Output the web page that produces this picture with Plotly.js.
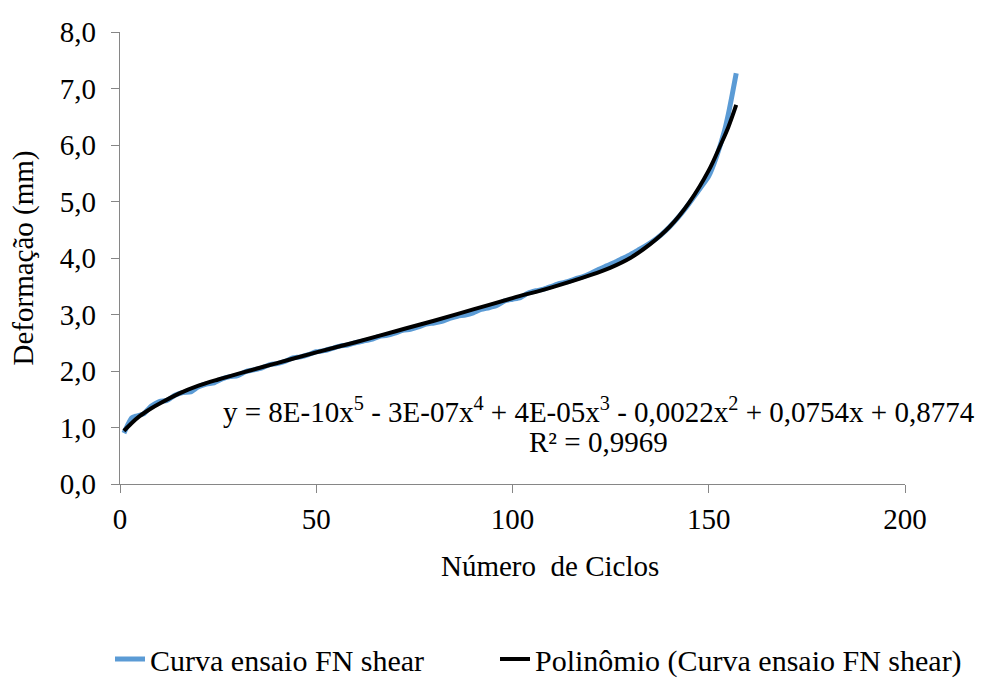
<!DOCTYPE html>
<html>
<head>
<meta charset="utf-8">
<script src="https://cdn.plot.ly/plotly-3.0.1.min.js"></script>
<style>html,body{margin:0;padding:0;background:#fff;}#chart{width:982px;height:680px;}</style>
</head>
<body>
<div id="chart"></div>
<script>
// Measured series (Curva ensaio FN shear)
const cyclesData = [1,2,3,4,6,8,10,12,14,16,18,20,22,24,26,28,30,32,34,36,38,40,42,44,46,48,50,52,54,56,58,60,62,64,66,68,70,72,74,76,78,80,82,84,86,88,90,92,94,96,98,100,102,104,106,108,110,112,114,116,118,120,122,124,126,128,130,132,134,136,138,140,142,144,146,148,150,152,154,155,156,157];
const deformData = [0.90,1.05,1.17,1.20,1.24,1.38,1.46,1.48,1.57,1.62,1.63,1.72,1.77,1.79,1.86,1.90,1.92,1.99,2.02,2.05,2.11,2.13,2.17,2.23,2.25,2.29,2.34,2.36,2.40,2.44,2.46,2.50,2.53,2.56,2.61,2.63,2.67,2.72,2.74,2.78,2.83,2.85,2.88,2.93,2.97,2.99,3.03,3.09,3.12,3.16,3.24,3.27,3.30,3.38,3.42,3.45,3.50,3.55,3.58,3.63,3.67,3.73,3.80,3.86,3.92,3.99,4.06,4.14,4.22,4.31,4.42,4.55,4.70,4.87,5.06,5.25,5.45,5.80,6.25,6.55,6.90,7.27];

// Polynomial trendline
const cyclesTrend = [1,3,5,8,10,15,20,25,30,40,50,60,70,80,90,100,110,120,125,130,135,140,145,150,153,155,157];
const deformTrend = [0.94,1.08,1.20,1.34,1.42,1.60,1.74,1.85,1.95,2.14,2.33,2.51,2.70,2.89,3.09,3.29,3.48,3.70,3.83,4.00,4.24,4.55,4.98,5.55,6.00,6.32,6.71];

const seriesNames = ["Curva ensaio FN shear", "Polinômio (Curva ensaio FN shear)"];
const xTicks = [0,50,100,150,200];
const yTicks = [0,1,2,3,4,5,6,7,8];
const equationText = "y = 8E-10x<sup>5</sup> - 3E-07x<sup>4</sup> + 4E-05x<sup>3</sup> - 0,0022x<sup>2</sup> + 0,0754x + 0,8774";
const r2Text = "R² = 0,9969";

const FONT = "Liberation Serif";
const AX = "#868686";

const traces = [
  {x: cyclesData, y: deformData, type: "scatter", mode: "lines", name: seriesNames[0], legend: "legend",
   line: {color: "#5B9BD5", width: 5, shape: "spline", smoothing: 0.6}},
  {x: cyclesTrend, y: deformTrend, type: "scatter", mode: "lines", name: seriesNames[1], legend: "legend2",
   line: {color: "#000000", width: 4, shape: "spline", smoothing: 1}}
];

const legendY = -(659 - 484) / 452;
const layout = {
  width: 982, height: 680,
  margin: {l: 120, r: 77, t: 32, b: 196, autoexpand: false},
  paper_bgcolor: "#fff", plot_bgcolor: "#fff",
  separators: ",.",
  font: {family: FONT, size: 29, color: "#000"},
  xaxis: {range: [0, 200], tickvals: xTicks, showgrid: false, zeroline: false, automargin: false,
          showline: true, linecolor: AX, linewidth: 1.3, ticks: "outside", ticklen: 8, tickcolor: AX,
          tickfont: {family: FONT, size: 29}, ticklabelstandoff: 1},
  yaxis: {range: [0, 8], tickvals: yTicks, tickformat: ".1f", showgrid: false, zeroline: false, automargin: false,
          showline: true, linecolor: AX, linewidth: 1.3, ticks: "outside", ticklen: 8, tickcolor: AX,
          tickfont: {family: FONT, size: 29}, ticklabelstandoff: 9,
          title: {text: "Deformação (mm)", font: {family: FONT, size: 29}, standoff: 17}},
  showlegend: true,
  legend: {orientation: "h", x: (110-120)/785, xanchor: "left", y: legendY, yanchor: "middle",
           font: {family: FONT, size: 30}, bgcolor: "rgba(0,0,0,0)"},
  legend2: {orientation: "h", x: (495-120)/785, xanchor: "left", y: legendY, yanchor: "middle",
           font: {family: FONT, size: 30}, bgcolor: "rgba(0,0,0,0)"},
  annotations: [
    {xref: "x", yref: "y", x: 122, y: 1.31, text: equationText, showarrow: false,
     font: {family: FONT, size: 29}, xanchor: "center", yanchor: "middle"},
    {xref: "x", yref: "y", x: 122, y: 0.75, text: r2Text, showarrow: false,
     font: {family: FONT, size: 29}, xanchor: "center", yanchor: "middle"},
    {xref: "paper", yref: "paper", x: (550-120)/785, y: -(566-484)/452, text: "Número  de Ciclos",
     showarrow: false, font: {family: FONT, size: 29}, xanchor: "center", yanchor: "middle"}
  ]
};

Plotly.newPlot("chart", traces, layout, {displayModeBar: false, staticPlot: true});
</script>
</body>
</html>
